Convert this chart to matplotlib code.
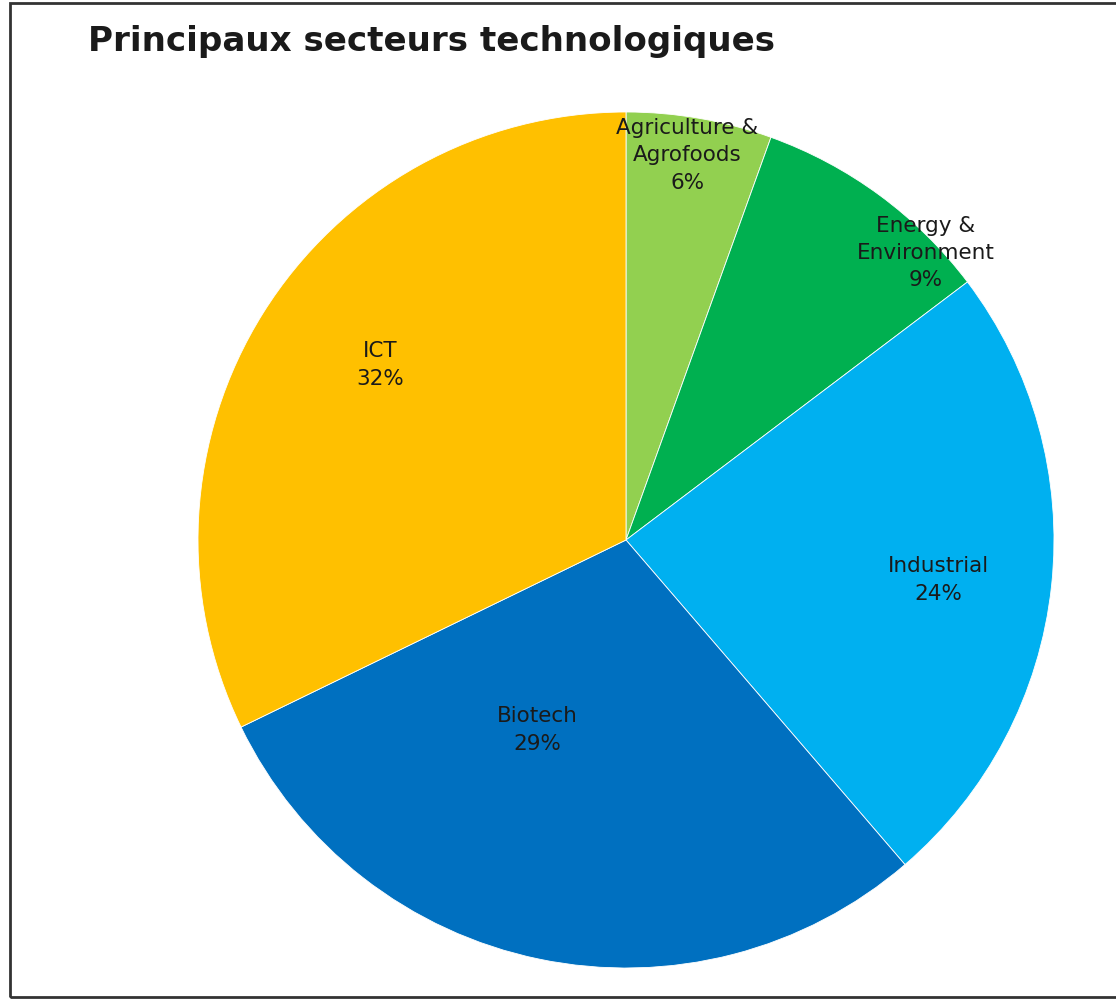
import numpy as np
import matplotlib.pyplot as plt
from matplotlib.patches import Rectangle

sectors = ["Agriculture &\nAgrofoods", "Energy &\nEnvironment", "Industrial", "Biotech", "ICT"]
shares = [5.5, 9.2, 24.0, 29.1, 32.2]
colors = ["#92D050", "#00B050", "#00B0F0", "#0070C0", "#FFC000"]

# placement des etiquettes (rayon relatif, decalage angulaire en degres)
lab_r = [0.91, 0.97, 0.735, 0.49, 0.705]
lab_off = [0.8, -9.9, -1.2, -13.3, -3.4]

fig = plt.figure(figsize=(11.16, 9.99), dpi=100)
fig.patch.set_facecolor("white")

# cadre
fig.patches.append(Rectangle((10 / 1116, 2 / 999), 1.2, 994 / 999, transform=fig.transFigure,
                             fill=False, edgecolor="#333333", linewidth=2))

fig.text(88 / 1116, 1 - 42 / 999, "Principaux secteurs technologiques", fontsize=24.6,
         fontweight="bold", va="center", ha="left", color="#1a1a1a")

ax = fig.add_axes([198 / 1116, 31 / 999, 856 / 1116, 856 / 999])
wedges, _ = ax.pie(shares, colors=colors, startangle=90, counterclock=False,
                   radius=1.0, wedgeprops=dict(edgecolor="white", linewidth=0.6))
ax.set_xlim(-1, 1)
ax.set_ylim(-1, 1)
ax.set_aspect("equal")
ax.axis("off")

for w, name, val, r, off in zip(wedges, sectors, shares, lab_r, lab_off):
    mid = np.deg2rad((w.theta1 + w.theta2) / 2 + off)
    ax.text(r * np.cos(mid), r * np.sin(mid), f"{name}\n{round(val)}%", ha="center", va="center",
            fontsize=15.5, color="#1a1a1a", linespacing=1.45)

plt.savefig("out.png", dpi=100)
